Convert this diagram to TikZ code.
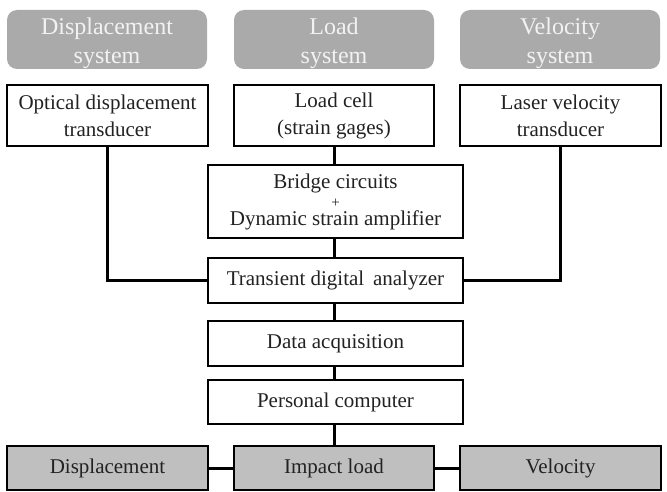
\documentclass[tikz,border=0pt]{standalone}
\usepackage{fontspec}
\setmainfont{Liberation Serif}
\definecolor{boxgray}{HTML}{BFBFBF}
\definecolor{topgray}{HTML}{AAAAAA}
\definecolor{headtxt}{HTML}{F2F2F2}
\definecolor{txt}{HTML}{222222}
\newcommand{\headtext}[2]{\raisebox{-4pt}[\height][\depth]{\begin{tabular}{@{}c@{}}#1\\#2\end{tabular}}}
\begin{document}
\begin{tikzpicture}[x=1pt,y=-1pt,
  every node/.style={font=\fontsize{21}{27}\selectfont, inner sep=0pt, align=center, text=txt},
  sysbox/.style={fill=topgray, draw=none, rounded corners=10pt, text=headtxt, font=\fontsize{24}{29}\selectfont},
  wbox/.style={draw=black, line width=2.6pt, fill=white},
  gbox/.style={draw=black, line width=2.6pt, fill=boxgray},
  conn/.style={line width=3pt, line cap=rect}]
\useasboundingbox (0,0) rectangle (667,492);
% system headers
\node[sysbox, minimum width=200pt, minimum height=59pt] (hs1) at (107,39.5) {\headtext{Displacement}{system}};
\node[sysbox, minimum width=200pt, minimum height=59pt] (hs2) at (334,39.5) {\headtext{Load}{system}};
\node[sysbox, minimum width=200pt, minimum height=59pt] (hs3) at (560,39.5) {\headtext{Velocity}{system}};
% sensors
\node[wbox, minimum width=201pt, minimum height=61pt] (s1) at (107.5,115.5) {Optical displacement\\transducer};
\node[wbox, minimum width=200pt, minimum height=61pt] (s2) at (334,115.5) {Load cell\\(strain gages)};
\node[wbox, minimum width=201pt, minimum height=61pt] (s3) at (560.5,115.5) {Laser velocity\\transducer};
% chain
\node[wbox, minimum width=255pt, minimum height=73pt] (br) at (335.5,201.5) {Bridge circuits\\[-8pt]{\fontsize{15}{15}\selectfont +}\\[-9pt]Dynamic strain amplifier};
\node[wbox, minimum width=255pt, minimum height=45pt] (tr) at (335.5,280.5) {Transient digital\, analyzer};
\node[wbox, minimum width=255pt, minimum height=45pt] (da) at (335.5,343.5) {Data acquisition};
\node[wbox, minimum width=255pt, minimum height=44pt] (pc) at (335.5,402) {Personal computer};
% outputs
\node[gbox, minimum width=201pt, minimum height=44pt] (o1) at (107.5,468) {Displacement};
\node[gbox, minimum width=200pt, minimum height=44pt] (o2) at (334,468) {Impact load};
\node[gbox, minimum width=201pt, minimum height=44pt] (o3) at (560.5,468) {Velocity};
% connectors
\draw[conn] (s1.south) |- (tr.west);
\draw[conn] (s3.south) |- (tr.east);
\draw[conn] (s2.south) -- (s2.south |- br.north);
\draw[conn] (br.south -| s2.south) -- (s2.south |- tr.north);
\draw[conn] (tr.south -| s2.south) -- (s2.south |- da.north);
\draw[conn] (da.south -| s2.south) -- (s2.south |- pc.north);
\draw[conn] (pc.south -| s2.south) -- (o2.north);
\draw[conn] (o1.east) -- (o2.west);
\draw[conn] (o2.east) -- (o3.west);
\end{tikzpicture}
\end{document}
